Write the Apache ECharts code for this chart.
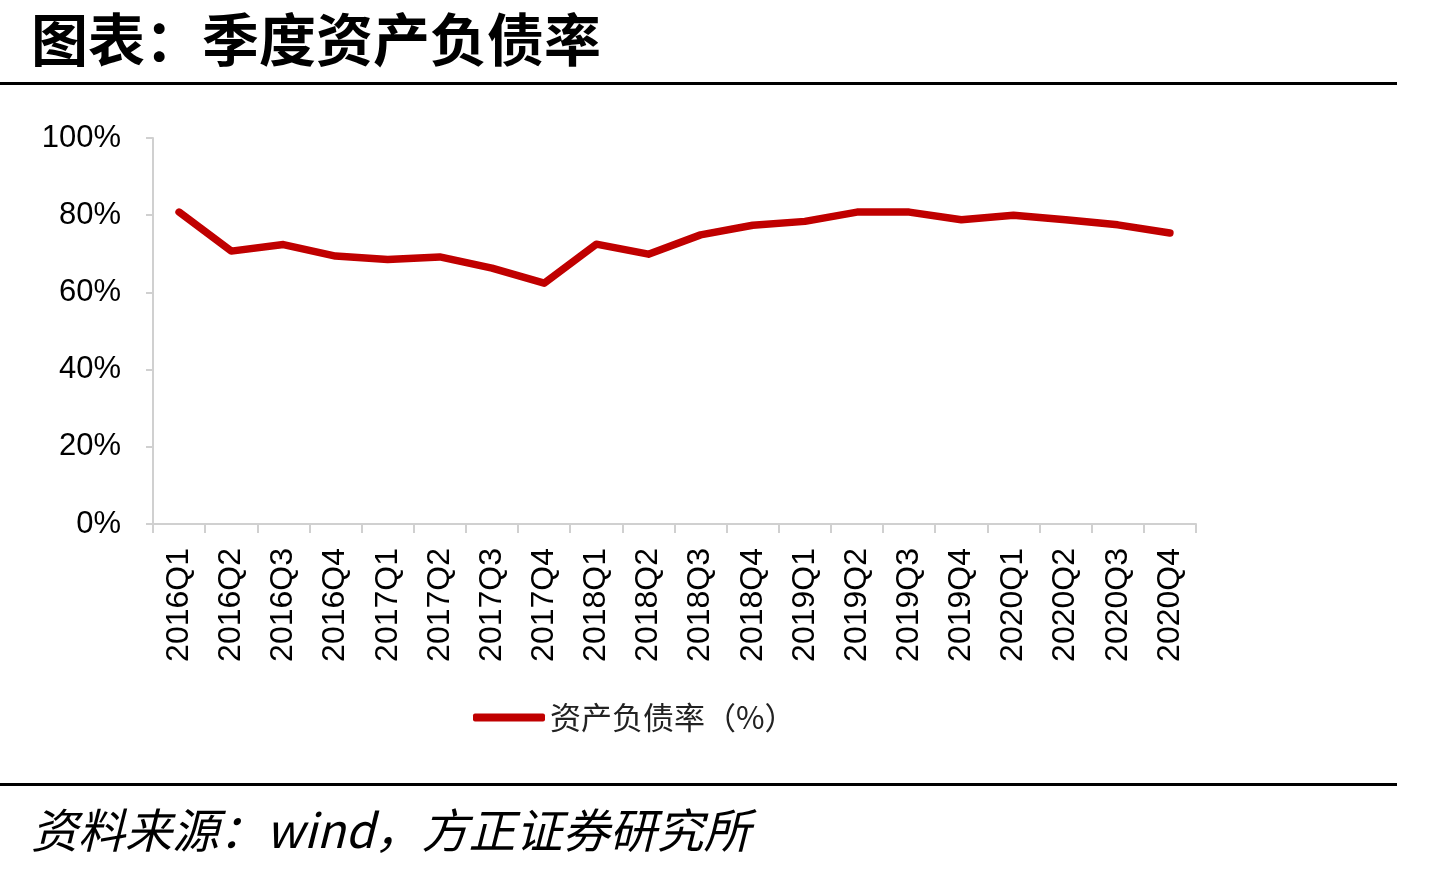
<!DOCTYPE html>
<html>
<head>
<meta charset="utf-8">
<script src="https://cdn.jsdelivr.net/npm/echarts@6/dist/echarts.min.js"></script>
<style>
html, body { margin: 0; padding: 0; background: #fff; }
#main { width: 1434px; height: 870px; }
</style>
</head>
<body>
<div id="main"></div>
<script>
// 季度
var quarters = ['2016Q1', '2016Q2', '2016Q3', '2016Q4', '2017Q1', '2017Q2', '2017Q3', '2017Q4',
	'2018Q1', '2018Q2', '2018Q3', '2018Q4', '2019Q1', '2019Q2', '2019Q3', '2019Q4',
	'2020Q1', '2020Q2', '2020Q3', '2020Q4'];
// 资产负债率 (%)
var debtRatio = [80.8, 70.7, 72.4, 69.4, 68.5, 69.2, 66.3, 62.4,
	72.5, 69.9, 74.9, 77.4, 78.4, 80.8, 80.8, 78.8,
	80.0, 78.8, 77.5, 75.4];
var seriesName = '资产负债率（%）';

var cjk = '"Noto Sans CJK SC", sans-serif';
var latin = 'Arial, "Liberation Sans", sans-serif';

var myChart = echarts.init(document.getElementById('main'));
var option = {
	backgroundColor: '#fff',
	animation: false,
	title: [{
		text: '图表：季度资产负债率',
		left: 26,
		top: 6,
		textStyle: { fontFamily: cjk, fontSize: 57, fontWeight: 'bold', color: '#000' }
	}, {
		text: '资料来源：wind，方正证券研究所',
		left: 26,
		top: 802,
		textStyle: { fontFamily: cjk, fontSize: 47, fontStyle: 'italic', fontWeight: 'normal', color: '#000' }
	}],
	graphic: [
		{ type: 'rect', shape: { x: 0, y: 82, width: 1397, height: 3 }, style: { fill: '#000' } },
		{ type: 'rect', shape: { x: 0, y: 783, width: 1397, height: 3 }, style: { fill: '#000' } }
	],
	grid: { left: 153, right: 238, top: 138, bottom: 346 },
	legend: {
		data: [seriesName],
		left: 468,
		top: 697,
		icon: 'roundRect',
		itemWidth: 72,
		itemHeight: 8,
		textStyle: { fontFamily: cjk, fontSize: 31, color: '#222' }
	},
	xAxis: {
		type: 'category',
		data: quarters,
		boundaryGap: true,
		axisLine: { lineStyle: { color: '#d0d0d0', width: 2 } },
		axisTick: { show: true, length: 9, lineStyle: { color: '#d0d0d0', width: 2 } },
		axisLabel: { rotate: 90, interval: 0, margin: 24, fontFamily: latin, fontSize: 32, color: '#000' }
	},
	yAxis: {
		type: 'value',
		min: 0,
		max: 100,
		interval: 20,
		splitLine: { show: false },
		axisLine: { show: true, lineStyle: { color: '#d0d0d0', width: 2 } },
		axisTick: { show: true, length: 7, lineStyle: { color: '#d0d0d0', width: 2 } },
		axisLabel: { formatter: '{value}%', margin: 32, fontFamily: latin, fontSize: 31, color: '#000' }
	},
	series: [{
		name: seriesName,
		type: 'line',
		data: debtRatio,
		showSymbol: false,
		symbol: 'none',
		lineStyle: { color: '#C00000', width: 7.5, cap: 'round', join: 'round' },
		itemStyle: { color: '#C00000' }
	}]
};
myChart.setOption(option);
</script>
</body>
</html>
